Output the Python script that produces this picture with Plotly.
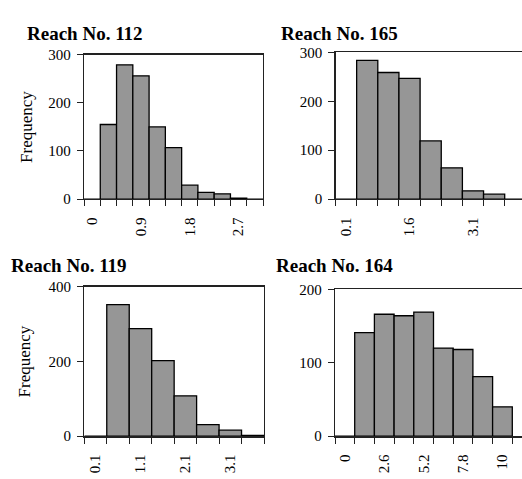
import plotly.graph_objects as go

# ---- data ----
titles = ["Reach No. 112", "Reach No. 165", "Reach No. 119", "Reach No. 164"]

cats_112 = ["0", "0.3", "0.6", "0.9", "1.2", "1.5", "1.8", "2.1", "2.4", "2.7", "3"]
freq_112 = [0, 155, 279, 256, 150, 107, 29, 14, 11, 2, 0]
labels_112 = ["0", "0.9", "1.8", "2.7"]

cats_165 = ["0.1", "0.6", "1.1", "1.6", "2.1", "2.6", "3.1", "3.6", "4.1"]
freq_165 = [0, 284, 259, 247, 119, 64, 17, 10, 0]
labels_165 = ["0.1", "1.6", "3.1"]

cats_119 = ["0.1", "0.6", "1.1", "1.6", "2.1", "2.6", "3.1", "3.6"]
freq_119 = [0, 352, 288, 202, 108, 31, 16, 2]
labels_119 = ["0.1", "1.1", "2.1", "3.1"]

cats_164 = ["0", "1.3", "2.6", "3.9", "5.2", "6.5", "7.8", "9.1", "10"]
freq_164 = [0, 141, 166, 164, 169, 120, 118, 81, 40]
labels_164 = ["0", "2.6", "5.2", "7.8", "10"]

y_ticks_112 = [0, 100, 200, 300]
y_ticks_165 = [0, 100, 200, 300]
y_ticks_119 = [0, 200, 400]
y_ticks_164 = [0, 100, 200]

W, H = 522, 479
FONT = "Liberation Serif, Times New Roman, serif"
LINE = "#222222"
BAR_FILL = "#969696"

# panel geometry in pixels
panels = [
    dict(cats=cats_112, freq=freq_112, labels=labels_112, yt=y_ticks_112,
         px=(84, 263), py=(48.3, 197.7), xr=None, mirror_y=True, freq_label=True, fx=27),
    dict(cats=cats_165, freq=freq_165, labels=labels_165, yt=y_ticks_165,
         px=(335.5, 522), py=(46, 197.7), xr=21.15, mirror_y=False, freq_label=False, fx=None),
    dict(cats=cats_119, freq=freq_119, labels=labels_119, yt=y_ticks_119,
         px=(84.3, 264), py=(288.3, 443), xr=None, mirror_y=True, freq_label=True, fx=24),
    dict(cats=cats_164, freq=freq_164, labels=labels_164, yt=y_ticks_164,
         px=(335, 522), py=(291, 443), xr=19.7, mirror_y=False, freq_label=False, fx=None),
]
title_pos = [(25, 26.7), (279, 26.7), (9, 266.5), (274.3, 266.5)]

fig = go.Figure()
layout = dict(
    width=W, height=H, margin=dict(l=0, r=0, t=0, b=0),
    paper_bgcolor="white", plot_bgcolor="white", hovermode=False,
    showlegend=False, bargap=0, font=dict(family=FONT, color="black", size=15),
)
annotations = []

for i, p in enumerate(panels):
    n = i + 1
    xa = "x" if n == 1 else f"x{n}"
    ya = "y" if n == 1 else f"y{n}"
    fig.add_trace(go.Bar(
        x=p["cats"], y=p["freq"], xaxis=xa, yaxis=ya,
        marker=dict(color=BAR_FILL, line=dict(color="black", width=1.3)),
        width=1.0,
    ))
    x0, x1 = p["px"]
    ytop, ybot = p["py"]
    if p["xr"] is None:
        xrange = [-0.5, len(p["cats"]) - 0.5]
    else:
        xrange = [-0.5, -0.5 + (x1 - x0) / p["xr"]]
    ticktext = [c if c in p["labels"] else "" for c in p["cats"]]
    layout["xaxis" if n == 1 else f"xaxis{n}"] = dict(
        domain=[x0 / W, x1 / W], anchor=ya, type="category",
        range=xrange, tickmode="array", tickvals=p["cats"], ticktext=ticktext,
        tickson="boundaries", ticks="outside", ticklen=6, tickwidth=1, tickcolor=LINE,
        tickangle=-90, tickfont=dict(family=FONT, size=15, color="black"),
        ticklabelstandoff=11,
        showline=True, linecolor=LINE, linewidth=1.3, mirror=True,
        showgrid=False, zeroline=False, fixedrange=True,
    )
    layout["yaxis" if n == 1 else f"yaxis{n}"] = dict(
        domain=[1 - ybot / H, 1 - ytop / H], anchor=xa,
        range=[0, max(p["yt"])], tickmode="array", tickvals=p["yt"],
        ticks="outside", ticklen=6, tickwidth=1, tickcolor=LINE,
        tickfont=dict(family=FONT, size=15, color="black"),
        ticklabelstandoff=3,
        showline=True, linecolor=LINE, linewidth=1.3, mirror=p["mirror_y"],
        showgrid=False, zeroline=False, fixedrange=True,
    )
    tx, ty = title_pos[i]
    annotations.append(dict(
        text=f"<b>{titles[i]}</b>", x=tx / W, y=1 - ty / H, xref="paper", yref="paper",
        xanchor="left", yanchor="middle", showarrow=False,
        font=dict(family=FONT, size=19, color="black"),
    ))
    if p["freq_label"]:
        annotations.append(dict(
            text="Frequency", x=p["fx"] / W, y=1 - (ytop + ybot) / 2 / H,
            xref="paper", yref="paper", xanchor="center", yanchor="middle",
            textangle=-90, showarrow=False,
            font=dict(family=FONT, size=17, color="black"),
        ))

layout["annotations"] = annotations
fig.update_layout(**layout)
fig.write_html(
    "out.html",
    config={"displayModeBar": False, "staticPlot": True},
    post_script="document.body.style.margin='0';document.body.style.overflow='hidden';",
)
